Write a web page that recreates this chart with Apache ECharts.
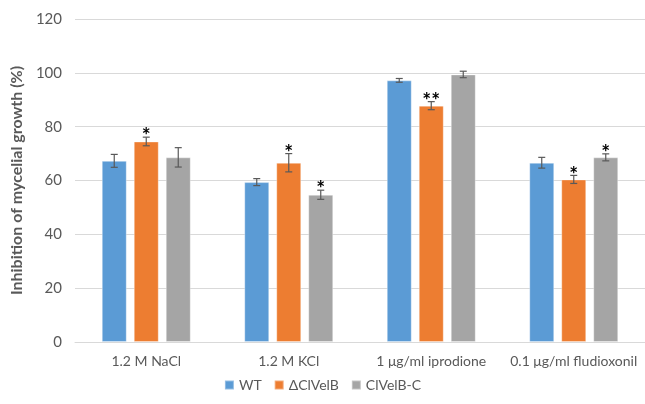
<!DOCTYPE html>
<html><head><meta charset="utf-8">
<script src="https://cdn.jsdelivr.net/npm/echarts@6/dist/echarts.min.js"></script>
<style>html,body{margin:0;padding:0;background:#fff}#c{width:645px;height:404px}</style>
</head><body><div id="c"></div>
<script>
var categories = ['1.2 M NaCl', '1.2 M KCl', '1 μg/ml iprodione', '0.1 μg/ml fludioxonil'];
var seriesNames = ['WT', 'ΔClVelB', 'ClVelB-C'];
var wtValues = [67.3, 59.4, 97.2, 66.6];
var mutValues = [74.5, 66.6, 87.8, 60.4];
var compValues = [68.6, 54.7, 99.4, 68.6];
var wtErr = [2.4, 1.3, 0.7, 2.0];
var mutErr = [1.6, 3.4, 1.5, 1.5];
var compErr = [3.6, 1.7, 1.2, 1.3];
var wtSig = ['', '', '', ''];
var mutSig = ['*', '*', '**', '*'];
var compSig = ['', '*', '', '*'];
var yTicks = [0, 20, 40, 60, 80, 100, 120];

var colors = ['#5B9BD5', '#ED7D31', '#A5A5A5'];
var FONT = 'Lato, "Open Sans", sans-serif';
var BAR_W = 25, GAP = 7;

var allValues = [wtValues, mutValues, compValues];
var allErr = [wtErr, mutErr, compErr];
var allSig = [wtSig, mutSig, compSig];

var chart = echarts.init(document.getElementById('c'), null, {renderer: 'canvas'});

var series = [];
seriesNames.forEach(function (name, i) {
  series.push({
    name: name, type: 'bar', data: allValues[i],
    barWidth: BAR_W, barGap: (GAP / BAR_W * 100) + '%',
    itemStyle: {color: colors[i], borderColor: 'rgba(255,255,255,0.35)', borderWidth: 1},
    emphasis: {disabled: true}
  });
});
seriesNames.forEach(function (name, i) {
  var data = allValues[i].map(function (v, k) { return [k, v, allErr[i][k]]; });
  series.push({
    type: 'custom', silent: true, z: 10,
    data: data,
    renderItem: function (params, api) {
      var k = api.value(0), v = api.value(1), e = api.value(2);
      var sig = allSig[i][params.dataIndex];
      var off = (i - 1) * (BAR_W + GAP);
      var top = api.coord([k, v + e]);
      var bot = api.coord([k, v - e]);
      var x = top[0] + off;
      var cap = 3.5;
      var st = {stroke: '#595959', lineWidth: 1.2};
      var children = [
        {type: 'line', shape: {x1: x, y1: top[1], x2: x, y2: bot[1]}, style: st},
        {type: 'line', shape: {x1: x - cap, y1: top[1], x2: x + cap, y2: top[1]}, style: st},
        {type: 'line', shape: {x1: x - cap, y1: bot[1], x2: x + cap, y2: bot[1]}, style: st}
      ];
      if (sig) {
        children.push({type: 'text', style: {text: sig, x: x, y: top[1] + 10, align: 'center', verticalAlign: 'bottom',
          fill: '#000', font: 'bold 21px ' + FONT}});
      }
      return {type: 'group', children: children};
    }
  });
});

chart.setOption({
  animation: false,
  grid: {left: 75, top: 19, width: 576, height: 323, containLabel: false},
  legend: {
    data: seriesNames, top: 373, left: 'center',
    itemWidth: 9, itemHeight: 9, itemGap: 12, icon: 'rect',
    textStyle: {color: '#595959', fontSize: 14, fontFamily: FONT}
  },
  xAxis: {
    type: 'category', data: categories,
    axisLine: {lineStyle: {color: '#D9D9D9'}},
    axisTick: {show: false},
    axisLabel: {color: '#595959', fontSize: 14, fontFamily: FONT, margin: 12, interval: 0}
  },
  yAxis: {
    type: 'value', min: yTicks[0], max: yTicks[yTicks.length - 1], interval: 20,
    name: 'Inhibition of mycelial growth (%)', nameLocation: 'middle', nameGap: 47,
    nameTextStyle: {color: '#595959', fontSize: 16, fontWeight: 'bold', fontFamily: FONT},
    axisLine: {show: false}, axisTick: {show: false},
    axisLabel: {color: '#595959', fontSize: 15, fontFamily: FONT, margin: 13},
    splitLine: {lineStyle: {color: '#D9D9D9'}}
  },
  series: series
});
</script></body></html>
